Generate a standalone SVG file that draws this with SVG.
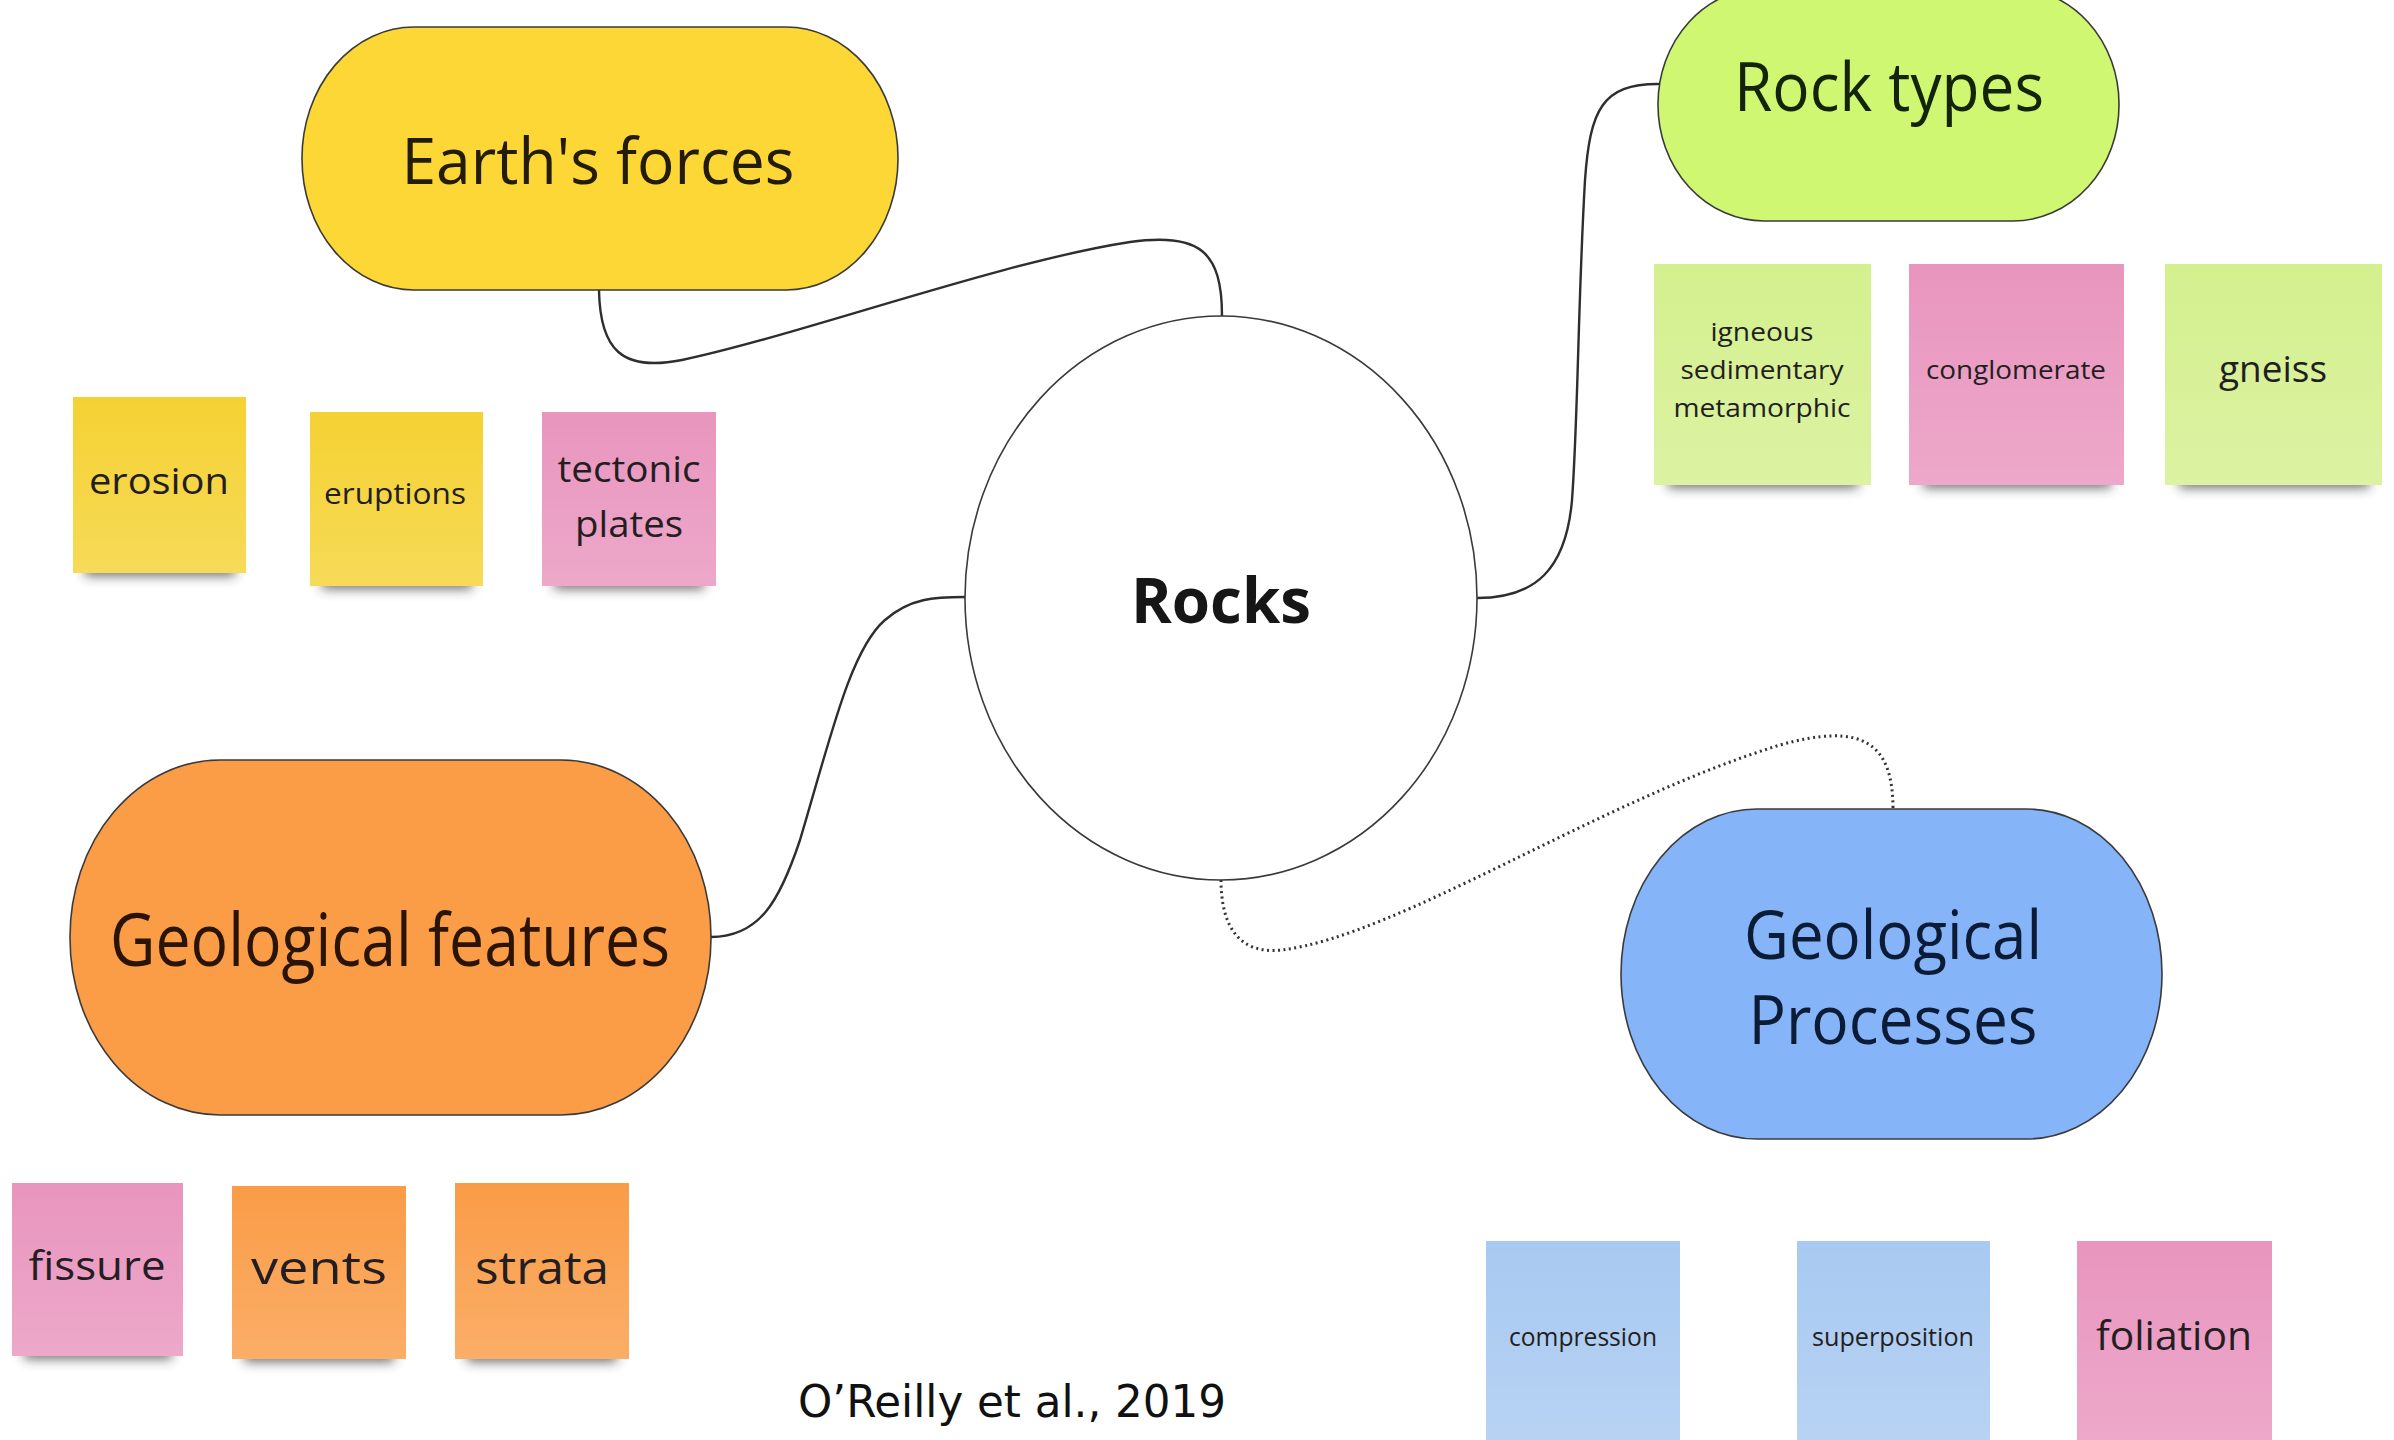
<svg xmlns="http://www.w3.org/2000/svg" width="2394" height="1440" viewBox="0 0 2394 1440">
  <defs>
    <filter id="soft" x="-20%" y="-200%" width="140%" height="500%">
      <feGaussianBlur stdDeviation="6"/>
    </filter>
    <linearGradient id="sheen" x1="0" y1="0" x2="0" y2="1">
      <stop offset="0" stop-color="#fff" stop-opacity="0"/>
      <stop offset="1" stop-color="#fff" stop-opacity="0.18"/>
    </linearGradient>
  </defs>
  <style>
    .pill { stroke: #3a3a3a; stroke-width: 1.6; }
    .big { font-family: "Open Sans", "Noto Sans", sans-serif; text-anchor: middle; }
    .note { font-family: "Open Sans", "Noto Sans", sans-serif; text-anchor: middle; fill: #231e22; font-weight: 500; }
    .shadow { fill: #333; opacity: 0.7; filter: url(#soft); }
    .yellow { fill: #F5D233; }
    .pink { fill: #E995BE; }
    .lime { fill: #D4F08E; }
    .orange { fill: #FA9C47; }
    .blue { fill: #A8C9F1; }
    .sheen { fill: url(#sheen); }
    .link { fill: none; stroke: #2e2e2e; stroke-width: 2.4; stroke-linecap: round; }
    .dotted { fill: none; stroke: #333; stroke-width: 3; stroke-dasharray: 2 3.5; }
  </style>

  <rect width="2394" height="1440" fill="#ffffff"/>

  <!-- connectors from the centre topic to the four branches -->
  <g id="connectors">
    <path class="link" d="M599 290 C600 350 622 372 682 360 C800 335 1000 262 1130 242 C1200 232 1222 252 1222 316"/>
    <path class="link" d="M1658 84 C1602 84 1590 110 1585 180 C1578 300 1578 420 1572 500 C1566 570 1535 598 1477 598"/>
    <path class="link" d="M711 937 C760 937 780 900 800 840 C830 740 850 650 885 620 C910 598 935 597 965 597"/>
    <path class="dotted" d="M1221 880 C1221 922 1236 955 1282 950 C1400 935 1600 800 1780 745 C1862 722 1893 742 1893 809"/>
  </g>

  <!-- centre topic -->
  <g id="rocks">
    <ellipse cx="1221" cy="598" rx="256" ry="282" fill="#ffffff" class="pill"/>
    <text x="1221" y="623" class="big" font-size="62" font-weight="700" fill="#161616" textLength="180" lengthAdjust="spacingAndGlyphs">Rocks</text>
  </g>

  <!-- branch: Earth's forces -->
  <g id="earths-forces">
    <rect x="302" y="27" width="596" height="263" rx="112" ry="131" fill="#FDD735" class="pill"/>
    <text x="598" y="184" class="big" font-size="64" fill="#221c08" textLength="393" lengthAdjust="spacingAndGlyphs">Earth's forces</text>
  </g>

  <!-- branch: Rock types -->
  <g id="rock-types">
    <rect x="1658" y="-12" width="461" height="233" rx="106" ry="116" fill="#CFF772" class="pill"/>
    <text x="1889" y="111" class="big" font-size="68" fill="#14240a" textLength="310" lengthAdjust="spacingAndGlyphs">Rock types</text>
  </g>

  <!-- branch: Geological features -->
  <g id="geological-features">
    <rect x="70" y="760" width="641" height="355" rx="150" ry="177" fill="#FB9C47" class="pill"/>
    <text x="390" y="966" class="big" font-size="74" fill="#2a1406" textLength="560" lengthAdjust="spacingAndGlyphs">Geological features</text>
  </g>

  <!-- branch: Geological Processes -->
  <g id="geological-processes">
    <rect x="1621" y="809" width="541" height="330" rx="136" ry="165" fill="#86B4F9" class="pill"/>
    <text x="1893" y="959" class="big" font-size="67" fill="#0d1c36" textLength="298" lengthAdjust="spacingAndGlyphs">Geological</text>
    <text x="1893" y="1044" class="big" font-size="67" fill="#0d1c36" textLength="289" lengthAdjust="spacingAndGlyphs">Processes</text>
  </g>

  <!-- sticky notes: Earth's forces -->
  <g id="note-erosion">
    <rect class="shadow" x="85" y="562" width="150" height="14"/>
    <rect class="yellow" x="73" y="397" width="173" height="176"/>
    <rect class="sheen" x="73" y="397" width="173" height="176"/>
    <text class="note" x="159" y="494" font-size="36" textLength="140" lengthAdjust="spacingAndGlyphs">erosion</text>
  </g>
  <g id="note-eruptions">
    <rect class="shadow" x="322" y="575" width="150" height="14"/>
    <rect class="yellow" x="310" y="412" width="173" height="174"/>
    <rect class="sheen" x="310" y="412" width="173" height="174"/>
    <text class="note" x="395" y="504" font-size="30" textLength="142" lengthAdjust="spacingAndGlyphs">eruptions</text>
  </g>
  <g id="note-tectonic-plates">
    <rect class="shadow" x="554" y="575" width="150" height="14"/>
    <rect class="pink" x="542" y="412" width="174" height="174"/>
    <rect class="sheen" x="542" y="412" width="174" height="174"/>
    <text class="note" x="629" y="482" font-size="37" textLength="143" lengthAdjust="spacingAndGlyphs">tectonic</text>
    <text class="note" x="629" y="537" font-size="37" textLength="108" lengthAdjust="spacingAndGlyphs">plates</text>
  </g>

  <!-- sticky notes: Rock types -->
  <g id="note-igneous">
    <rect class="shadow" x="1668" y="474" width="190" height="14"/>
    <rect class="lime" x="1654" y="264" width="217" height="221"/>
    <rect class="sheen" x="1654" y="264" width="217" height="221"/>
    <text class="note" x="1762" y="341" font-size="26" textLength="103" lengthAdjust="spacingAndGlyphs">igneous</text>
    <text class="note" x="1762" y="379" font-size="26" textLength="163" lengthAdjust="spacingAndGlyphs">sedimentary</text>
    <text class="note" x="1762" y="417" font-size="26" textLength="177" lengthAdjust="spacingAndGlyphs">metamorphic</text>
  </g>
  <g id="note-conglomerate">
    <rect class="shadow" x="1923" y="474" width="188" height="14"/>
    <rect class="pink" x="1909" y="264" width="215" height="221"/>
    <rect class="sheen" x="1909" y="264" width="215" height="221"/>
    <text class="note" x="2016" y="379" font-size="26" textLength="180" lengthAdjust="spacingAndGlyphs">conglomerate</text>
  </g>
  <g id="note-gneiss">
    <rect class="shadow" x="2179" y="474" width="190" height="14"/>
    <rect class="lime" x="2165" y="264" width="217" height="221"/>
    <rect class="sheen" x="2165" y="264" width="217" height="221"/>
    <text class="note" x="2273" y="382" font-size="37" textLength="108" lengthAdjust="spacingAndGlyphs">gneiss</text>
  </g>

  <!-- sticky notes: Geological features -->
  <g id="note-fissure">
    <rect class="shadow" x="24" y="1345" width="148" height="14"/>
    <rect class="pink" x="12" y="1183" width="171" height="173"/>
    <rect class="sheen" x="12" y="1183" width="171" height="173"/>
    <text class="note" x="97" y="1280" font-size="40" textLength="137" lengthAdjust="spacingAndGlyphs">fissure</text>
  </g>
  <g id="note-vents">
    <rect class="shadow" x="244" y="1348" width="150" height="14"/>
    <rect class="orange" x="232" y="1186" width="174" height="173"/>
    <rect class="sheen" x="232" y="1186" width="174" height="173"/>
    <text class="note" x="319" y="1284" font-size="46" textLength="136" lengthAdjust="spacingAndGlyphs">vents</text>
  </g>
  <g id="note-strata">
    <rect class="shadow" x="467" y="1348" width="150" height="14"/>
    <rect class="orange" x="455" y="1183" width="174" height="176"/>
    <rect class="sheen" x="455" y="1183" width="174" height="176"/>
    <text class="note" x="542" y="1284" font-size="46" textLength="134" lengthAdjust="spacingAndGlyphs">strata</text>
  </g>

  <!-- sticky notes: Geological Processes -->
  <g id="note-compression">
    <rect class="shadow" x="1500" y="1430" width="166" height="14"/>
    <rect class="blue" x="1486" y="1241" width="194" height="199"/>
    <rect class="sheen" x="1486" y="1241" width="194" height="199"/>
    <text class="note" x="1583" y="1346" font-size="25" textLength="148" lengthAdjust="spacingAndGlyphs">compression</text>
  </g>
  <g id="note-superposition">
    <rect class="shadow" x="1811" y="1430" width="165" height="14"/>
    <rect class="blue" x="1797" y="1241" width="193" height="199"/>
    <rect class="sheen" x="1797" y="1241" width="193" height="199"/>
    <text class="note" x="1893" y="1346" font-size="25" textLength="162" lengthAdjust="spacingAndGlyphs">superposition</text>
  </g>
  <g id="note-foliation">
    <rect class="shadow" x="2091" y="1430" width="167" height="14"/>
    <rect class="pink" x="2077" y="1241" width="195" height="199"/>
    <rect class="sheen" x="2077" y="1241" width="195" height="199"/>
    <text class="note" x="2174" y="1350" font-size="40" textLength="156" lengthAdjust="spacingAndGlyphs">foliation</text>
  </g>

  <!-- source line -->
  <text x="1012" y="1417" font-family="'DejaVu Sans Condensed', 'DejaVu Sans', sans-serif" font-size="44" fill="#111" text-anchor="middle" textLength="428" lengthAdjust="spacingAndGlyphs">O’Reilly et al., 2019</text>
</svg>
